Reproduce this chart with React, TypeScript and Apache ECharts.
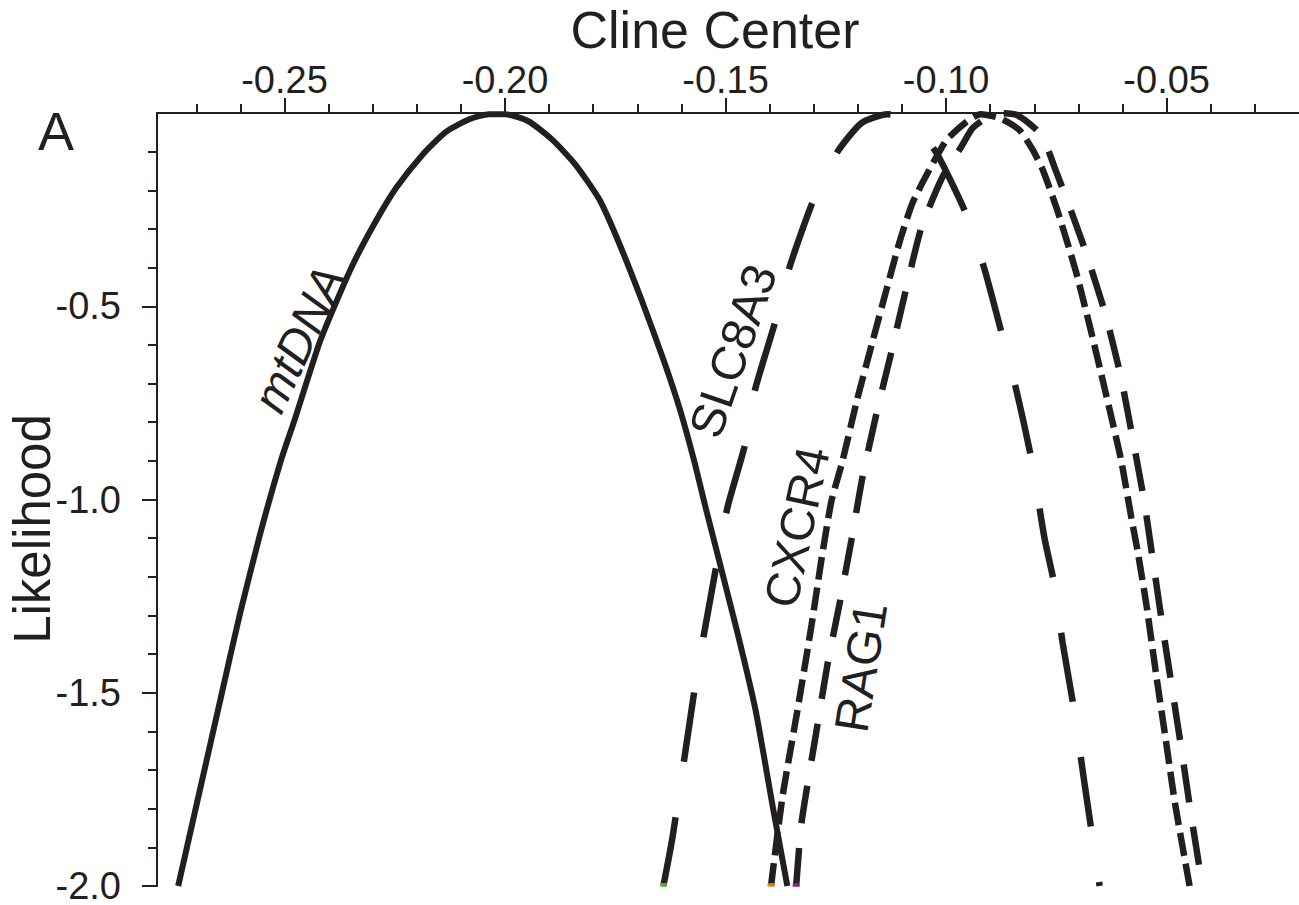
import React, { useEffect, useRef } from 'react';
import * as echarts from 'echarts';

const INK = '#231f20';
const FONT = '"Liberation Sans", Arial, Helvetica, sans-serif';

// axis ranges and tick values
const xRange = [-0.2789, -0.02];
const yRange = [-2, 0];
const xMajorTicks = [-0.25, -0.2, -0.15, -0.1, -0.05];
const yMajorTicks = [-2.0, -1.5, -1.0, -0.5];

// curves: [cline center, likelihood]
const mtDNA: [number, number][] = [
  [-0.2741, -2.0], [-0.2643, -1.506], [-0.2602, -1.301], [-0.2557, -1.097], [-0.2508, -0.899],
  [-0.2477, -0.794], [-0.2421, -0.596], [-0.2383, -0.49], [-0.2342, -0.385], [-0.2293, -0.28],
  [-0.2247, -0.194], [-0.2187, -0.108], [-0.2134, -0.049], [-0.2081, -0.016], [-0.2036, -0.003],
  [-0.2, -0.003], [-0.1946, -0.022], [-0.1893, -0.069], [-0.184, -0.134], [-0.1786, -0.224],
  [-0.1742, -0.335], [-0.1691, -0.482], [-0.1639, -0.644], [-0.1604, -0.765], [-0.1571, -0.901],
  [-0.1545, -1.022], [-0.1476, -1.331], [-0.1432, -1.545], [-0.1393, -1.795], [-0.136, -2.0],
];

const slc8a3: [number, number][] = [
  [-0.1641, -2.0], [-0.162, -1.872], [-0.1566, -1.46], [-0.1534, -1.254], [-0.1496, -1.022],
  [-0.1457, -0.863], [-0.1434, -0.719], [-0.1389, -0.546], [-0.1355, -0.399], [-0.1303, -0.232],
  [-0.1246, -0.1], [-0.1192, -0.026], [-0.1133, -0.003], [-0.1078, -0.023], [-0.1022, -0.103],
  [-0.0954, -0.263], [-0.0913, -0.404], [-0.0872, -0.579], [-0.084, -0.721], [-0.0806, -0.899],
  [-0.0777, -1.1], [-0.0754, -1.223], [-0.0736, -1.37], [-0.0709, -1.55], [-0.0691, -1.697],
  [-0.0668, -1.877], [-0.0652, -2.0],
];

const cxcr4: [number, number][] = [
  [-0.1397, -2.0], [-0.1371, -1.769], [-0.1337, -1.545], [-0.1305, -1.324], [-0.1282, -1.151],
  [-0.126, -1.004], [-0.1235, -0.901], [-0.1203, -0.747], [-0.1167, -0.592], [-0.1135, -0.456],
  [-0.1106, -0.335], [-0.1076, -0.232], [-0.1038, -0.147], [-0.0999, -0.07], [-0.0954, -0.023],
  [-0.0922, -0.003], [-0.0879, -0.013], [-0.0834, -0.044], [-0.0804, -0.095], [-0.0781, -0.147],
  [-0.0747, -0.255], [-0.0706, -0.409], [-0.0671, -0.567], [-0.0642, -0.706], [-0.0604, -0.894],
  [-0.058, -1.048], [-0.0566, -1.133], [-0.0546, -1.272], [-0.0523, -1.46], [-0.0502, -1.622],
  [-0.0481, -1.787], [-0.0448, -2.0],
];

const rag1: [number, number][] = [
  [-0.134, -2.0], [-0.1328, -1.838], [-0.1295, -1.606], [-0.1269, -1.427], [-0.1242, -1.272],
  [-0.1215, -1.107], [-0.119, -0.945], [-0.1158, -0.778], [-0.1124, -0.618], [-0.1092, -0.461],
  [-0.1056, -0.296], [-0.1008, -0.165], [-0.0966, -0.088], [-0.094, -0.039], [-0.0906, -0.01],
  [-0.0886, 0.0], [-0.084, -0.005], [-0.0784, -0.057], [-0.0752, -0.147], [-0.0712, -0.268],
  [-0.0683, -0.361], [-0.0639, -0.52], [-0.0604, -0.682], [-0.0577, -0.842], [-0.0551, -1.004],
  [-0.0532, -1.151], [-0.0509, -1.331], [-0.0487, -1.494], [-0.0465, -1.658], [-0.0444, -1.821],
  [-0.0419, -2.0],
];

const seriesNames = ['mtDNA', 'SLC8A3', 'CXCR4', 'RAG1'];
const endColors = ['#6abd45', '#f7941d', '#92278f'];

export default function App() {
  const ref = useRef<HTMLDivElement>(null);
  useEffect(() => {
    if (!ref.current) return;
    const chart = echarts.init(ref.current, null, { renderer: 'svg' });
    const tickStyle = { color: INK, width: 2 };
    const lineSeries = (name: string, data: [number, number][], dash: any, width: number) => ({
      name,
      type: 'line',
      data,
      showSymbol: false,
      symbol: 'none',
      smooth: 0.2,
      lineStyle: { color: INK, width, type: dash },
      z: 3,
    });
    const centered = { align: 'center', verticalAlign: 'middle', textAlign: 'center', textVerticalAlign: 'middle' };
    chart.setOption({
      animation: false,
      backgroundColor: '#ffffff',
      grid: { left: 157, right: 0, top: 113, bottom: 15, containLabel: false },
      xAxis: {
        type: 'value',
        position: 'top',
        min: xRange[0],
        max: xRange[1],
        splitNumber: 5,
        axisLine: { show: true, onZero: false, lineStyle: tickStyle },
        axisTick: { show: true, customValues: xMajorTicks, length: 15, lineStyle: tickStyle },
        minorTick: { show: true, splitNumber: 5, length: 9, lineStyle: tickStyle },
        axisLabel: {
          show: true,
          customValues: xMajorTicks,
          formatter: (v: number) => v.toFixed(2),
          fontSize: 38,
          fontFamily: FONT,
          color: INK,
          margin: 14,
        },
        splitLine: { show: false },
        minorSplitLine: { show: false },
      },
      yAxis: {
        type: 'value',
        position: 'left',
        min: yRange[0],
        max: yRange[1],
        interval: 0.5,
        axisLine: { show: true, onZero: false, lineStyle: tickStyle },
        axisTick: { show: true, customValues: yMajorTicks, length: 15, lineStyle: tickStyle },
        minorTick: { show: true, splitNumber: 5, length: 9, lineStyle: tickStyle },
        axisLabel: {
          show: true,
          customValues: yMajorTicks,
          formatter: (v: number) => v.toFixed(1),
          fontSize: 38,
          lineHeight: 26,
          padding: [0, 0, 3, 0],
          fontFamily: FONT,
          color: INK,
          margin: 36,
        },
        splitLine: { show: false },
        minorSplitLine: { show: false },
      },
      series: [
        lineSeries(seriesNames[0], mtDNA, 'solid', 6),
        lineSeries(seriesNames[1], slc8a3, [70, 56], 6.5),
        lineSeries(seriesNames[2], cxcr4, [23, 8], 6.5),
        lineSeries(seriesNames[3], rag1, [38, 25], 6.5),
        {
          type: 'scatter',
          symbol: 'rect',
          symbolSize: [7, 4],
          symbolOffset: [0, -1],
          z: 4,
          data: [slc8a3[0], cxcr4[0], rag1[0]].map((p, i) => ({
            value: p,
            itemStyle: { color: endColors[i] },
          })),
        },
      ],
      graphic: [
        {
          type: 'text', x: 715, y: 30,
          style: { text: 'Cline Center', fontSize: 52, fontFamily: FONT, fill: INK, ...centered },
        },
        {
          type: 'text', x: 32, y: 529, rotation: Math.PI / 2,
          style: { text: 'Likelihood', fontSize: 51, fontFamily: FONT, fill: INK, ...centered },
        },
        {
          type: 'text', x: 56, y: 131,
          style: { text: 'A', fontSize: 54, fontFamily: FONT, fill: INK, ...centered },
        },
        {
          type: 'text', x: 299, y: 339, rotation: (65 * Math.PI) / 180,
          style: { text: 'mtDNA', fontSize: 48, fontStyle: 'italic', fontFamily: FONT, fill: INK, ...centered },
        },
        {
          type: 'text', x: 733, y: 351, rotation: (71 * Math.PI) / 180,
          style: { text: 'SLC8A3', fontSize: 48, fontFamily: FONT, fill: INK, ...centered },
        },
        {
          type: 'text', x: 797, y: 527, rotation: (78 * Math.PI) / 180,
          style: { text: 'CXCR4', fontSize: 48, fontFamily: FONT, fill: INK, ...centered },
        },
        {
          type: 'text', x: 861, y: 667, rotation: (81 * Math.PI) / 180,
          style: { text: 'RAG1', fontSize: 48, fontFamily: FONT, fill: INK, ...centered },
        },
      ],
    });
    return () => chart.dispose();
  }, []);
  return (
    <div
      ref={ref}
      style={{ position: 'absolute', left: 0, top: 0, width: 1299, height: 905, background: '#fff' }}
    />
  );
}
